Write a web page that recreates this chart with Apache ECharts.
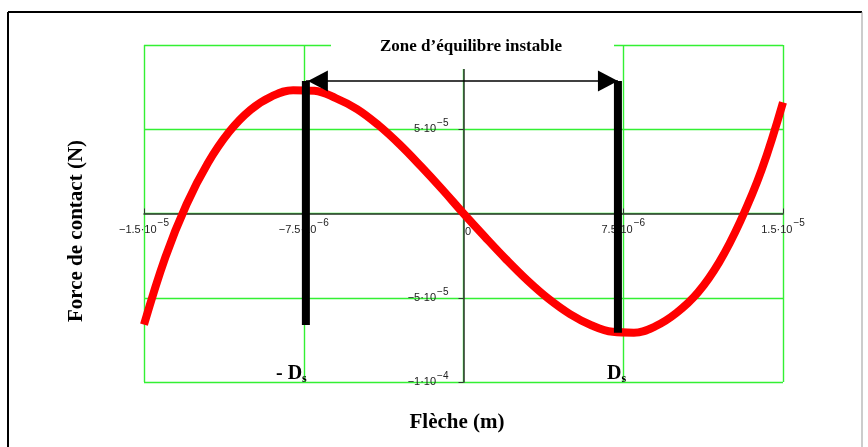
<!DOCTYPE html>
<html>
<head>
<meta charset="utf-8">
<script src="https://cdn.jsdelivr.net/npm/echarts@6/dist/echarts.min.js"></script>
<style>
  html, body { margin: 0; padding: 0; background: #fff; }
  #main { width: 868px; height: 447px; }
</style>
</head>
<body>
<div id="main"></div>
<script>
// flèche (m) et force de contact (N)
var fleche = [-1.5e-5, -1.4e-5, -1.3e-5, -1.2e-5, -1.1e-5, -1.0e-5, -9e-6, -8e-6, -7e-6, -6e-6, -5e-6,
  -4e-6, -3e-6, -2e-6, -1e-6, 0, 1e-6, 2e-6, 3e-6, 4e-6, 5e-6, 6e-6, 7e-6, 8e-6, 9e-6, 1.0e-5,
  1.1e-5, 1.2e-5, 1.3e-5, 1.4e-5, 1.5e-5];
var force = [-6.6e-5, -2.6e-5, 0.55e-5, 3.0e-5, 4.85e-5, 6.15e-5, 6.95e-5, 7.32e-5, 7.28e-5, 6.85e-5, 6.2e-5,
  5.25e-5, 4.1e-5, 2.8e-5, 1.43e-5, 0, -1.38e-5, -2.72e-5, -3.97e-5, -5.07e-5, -5.97e-5, -6.63e-5, -7.02e-5,
  -7.07e-5, -6.7e-5, -5.9e-5, -4.7e-5, -2.9e-5, -0.45e-5, 2.6e-5, 6.6e-5];

// barres -Ds / Ds
var dsX = [-7.4e-6, 7.25e-6];
var dsTop = 7.86e-5;
var dsBottom = [-6.62e-5, -7.07e-5];

// étiquettes des graduations (style Mathcad)
var xTicks = { '-0.000015': ['−1.5·10', '−5'], '-0.0000075': ['−7.5·10', '−6'], '0': ['0', ''],
  '0.0000075': ['7.5·10', '−6'], '0.000015': ['1.5·10', '−5'] };
var yTicks = { '0.00005': ['5·10', '−5'], '-0.00005': ['−5·10', '−5'], '-0.0001': ['−1·10', '−4'] };

var curve = fleche.map(function (x, i) { return [x, force[i]]; });

function tickLabel(table, v) {
  var t = table[String(+v.toPrecision(6))];
  if (!t) return '';
  if (!t[1]) return '{z|' + t[0] + '}';
  return '{b|' + t[0] + '}{s|' + t[1] + '}';
}

var tickRich = {
  b: { fontSize: 11, fontFamily: 'Liberation Sans', color: '#222' },
  z: { fontSize: 11, fontFamily: 'Liberation Sans', color: '#222', padding: [8, 0, 0, 9] },
  s: { fontSize: 10, fontFamily: 'Liberation Sans', color: '#222', padding: [0, 0, 12, 1] }
};

var gridW = 639, gridH = 337;

var myChart = echarts.init(document.getElementById('main'));

var option = {
  backgroundColor: '#fff',
  animation: false,
  grid: { left: 144, top: 45, width: gridW, height: gridH, containLabel: false },
  xAxis: {
    type: 'value',
    min: -1.5e-5,
    max: 1.5e-5,
    interval: 7.5e-6,
    position: 'bottom',
    offset: -gridH / 2,
    axisLine: { onZero: false, lineStyle: { color: '#333', width: 1.5 } },
    axisTick: { show: true, inside: true, length: 5, lineStyle: { color: '#333' } },
    axisLabel: {
      showMinLabel: true, showMaxLabel: true, hideOverlap: false, margin: 5,
      formatter: function (v) { return tickLabel(xTicks, v); },
      rich: tickRich
    },
    splitLine: { show: true, lineStyle: { color: '#33f033', width: 1.4 } }
  },
  yAxis: {
    type: 'value',
    min: -1e-4,
    max: 1e-4,
    interval: 5e-5,
    position: 'left',
    offset: -gridW / 2,
    axisLine: { onZero: false, lineStyle: { color: '#333', width: 1.5 } },
    axisTick: { show: true, length: 5, lineStyle: { color: '#333' } },
    axisLabel: {
      showMinLabel: true, showMaxLabel: true, hideOverlap: false, margin: 15,
      formatter: function (v) { return tickLabel(yTicks, v); },
      rich: tickRich
    },
    splitLine: { show: true, lineStyle: { color: '#33f033', width: 1.4 } }
  },
  series: [
    {
      type: 'line',
      data: curve,
      smooth: 0.4,
      showSymbol: false,
      lineStyle: { color: '#ff0000', width: 8 },
      z: 3
    },
    {
      type: 'line',
      data: [[dsX[0], dsTop], [dsX[0], dsBottom[0]]],
      showSymbol: false,
      lineStyle: { color: '#000', width: 8, cap: 'butt' },
      z: 4
    },
    {
      type: 'line',
      data: [[dsX[1], dsTop], [dsX[1], dsBottom[1]]],
      showSymbol: false,
      lineStyle: { color: '#000', width: 8, cap: 'butt' },
      z: 4
    },
    {
      type: 'line',
      data: [[dsX[0], dsTop], [dsX[1], dsTop]],
      showSymbol: false,
      lineStyle: { color: '#000', width: 1.5 },
      z: 4
    },
    {
      type: 'scatter',
      symbol: 'triangle',
      symbolSize: [21, 20],
      itemStyle: { color: '#000', opacity: 1 },
      data: [
        { value: [dsX[0], dsTop], symbolRotate: 90, symbolOffset: [12, 0] },
        { value: [dsX[1], dsTop], symbolRotate: -90, symbolOffset: [-10, 0] }
      ],
      z: 5
    }
  ],
  graphic: [
    { type: 'rect', shape: { x: 331, y: 28, width: 283, height: 41 }, style: { fill: '#fff' }, z: 100 },
    {
      type: 'text', x: 471, y: 47, z: 101,
      style: { text: 'Zone d’équilibre instable', font: 'bold 17px "Liberation Serif"', fill: '#000',
        align: 'center', verticalAlign: 'middle' }
    },
    {
      type: 'text', x: 276, y: 374, z: 101,
      style: {
        text: '{d|- D}{s|s}', align: 'left', verticalAlign: 'middle',
        rich: {
          d: { font: 'bold 20px "Liberation Serif"', fill: '#000' },
          s: { font: 'bold 12px "Liberation Serif"', fill: '#000', padding: [9, 0, 0, 0] }
        }
      }
    },
    {
      type: 'text', x: 607, y: 374, z: 101,
      style: {
        text: '{d|D}{s|s}', align: 'left', verticalAlign: 'middle',
        rich: {
          d: { font: 'bold 20px "Liberation Serif"', fill: '#000' },
          s: { font: 'bold 12px "Liberation Serif"', fill: '#000', padding: [9, 0, 0, 0] }
        }
      }
    },
    {
      type: 'text', x: 77, y: 231, rotation: Math.PI / 2, z: 101,
      style: { text: 'Force de contact (N)', font: 'bold 21px "Liberation Serif"', fill: '#000',
        align: 'center', verticalAlign: 'middle' }
    },
    {
      type: 'text', x: 457, y: 423, z: 101,
      style: { text: 'Flèche (m)', font: 'bold 21px "Liberation Serif"', fill: '#000',
        align: 'center', verticalAlign: 'middle' }
    },
    // cadre
    { type: 'line', shape: { x1: 8, y1: 12, x2: 862, y2: 12 }, style: { stroke: '#000', lineWidth: 2 }, z: 101 },
    { type: 'line', shape: { x1: 8, y1: 12, x2: 8, y2: 447 }, style: { stroke: '#000', lineWidth: 2 }, z: 101 },
    { type: 'line', shape: { x1: 862, y1: 12, x2: 862, y2: 447 }, style: { stroke: '#999', lineWidth: 1 }, z: 101 }
  ]
};

myChart.setOption(option);
</script>
</body>
</html>
